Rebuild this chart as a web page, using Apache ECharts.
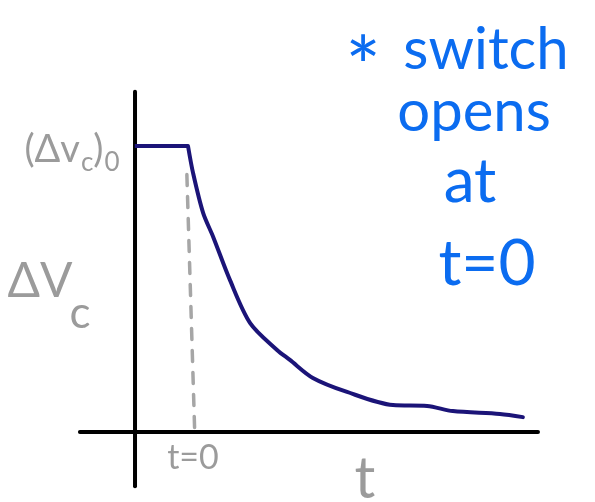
<!DOCTYPE html>
<html>
<head>
<meta charset="utf-8">
<script src="https://cdn.jsdelivr.net/npm/echarts@6/dist/echarts.min.js"></script>
<style>
  html, body { margin: 0; padding: 0; background: #fff; }
  #chart { width: 595px; height: 502px; }
</style>
</head>
<body>
<div id="chart"></div>
<script>
// Capacitor voltage after the switch opens: held at (ΔVc)0 before t=0, then decays.
// Time in units of the decay scale, voltage normalised to the initial value.
const holdTimes   = [-0.95, 0.0];
const holdValues  = [1.0, 1.0];
const decayTimes  = [0.0, 0.09, 0.27, 0.45, 0.75, 1.11, 1.59, 1.82, 2.23, 2.84, 3.66, 4.27, 4.73, 5.57, 5.98];
const decayValues = [1.0, 0.906, 0.766, 0.682, 0.531, 0.381, 0.287, 0.252, 0.189, 0.140, 0.094, 0.091, 0.073, 0.063, 0.052];
// Hand-drawn axes and the t=0 guide
const vAxisLine   = [[-0.946, 1.19], [-0.946, -0.19]];
const hAxisLine   = [[-1.93, 0.0], [6.25, 0.0]];
const switchGuide = [[-0.02, 0.90], [0.12, 0.0]];
// Note lines written beside the graph
const noteLines   = ['switch', 'opens', 'at', 't=0'];

const toPairs = (xs, ys) => xs.map((x, i) => [x, ys[i]]);
const chart = echarts.init(document.getElementById('chart'), null, { renderer: 'canvas' });

const gray = '#9b9b9b';
const blue = '#0b6cf0';
const font = 'Lato, "Open Sans", sans-serif';

function label(x, y, text, size, color, extra) {
  return {
    type: 'text', x: x, y: y, z: 10,
    style: Object.assign({ text: text, fontSize: size, fill: color, fontFamily: font,
      align: 'center', verticalAlign: 'middle' }, extra || {})
  };
}

chart.setOption({
  animation: false,
  backgroundColor: '#fff',
  grid: { left: 0, right: 0, top: 0, bottom: 0 },
  xAxis: { type: 'value', min: -3.357, max: 7.268, show: false },
  yAxis: { type: 'value', min: -0.2448, max: 1.5105, show: false },
  series: [
    { type: 'line', data: vAxisLine, symbol: 'none', z: 2,
      lineStyle: { color: '#000', width: 4, cap: 'round' } },
    { type: 'line', data: hAxisLine, symbol: 'none', z: 2,
      lineStyle: { color: '#000', width: 4, cap: 'round' } },
    { type: 'line', data: switchGuide, symbol: 'none', z: 1,
      lineStyle: { color: '#a6a6a6', width: 3.5, type: [11, 11], cap: 'round' } },
    { type: 'line', data: toPairs(holdTimes, holdValues), symbol: 'none', z: 3,
      lineStyle: { color: '#1b1478', width: 4 } },
    { type: 'line', data: toPairs(decayTimes, decayValues), symbol: 'none', smooth: 0.3, z: 3,
      lineStyle: { color: '#1b1478', width: 4, cap: 'round', join: 'round' } }
  ],
  graphic: [
    // (Δvc)0 level label
    label(72, 150, '{m|(Δv}{s|c}{m|)}{s|0}', 38, gray, {
      rich: {
        m: { fontSize: 38, fill: gray, fontFamily: font },
        s: { fontSize: 26, fill: gray, fontFamily: font, padding: [26, 0, 0, 1] }
      } }),
    // ΔVc axis name
    label(40, 282, 'ΔV', 48, gray),
    label(80, 314, 'c', 44, gray),
    // t=0 tick and t axis name
    label(193, 458, 't=0', 34, gray),
    label(365, 479, 't', 58, gray),
    // blue note
    label(363, 70, '*', 84, blue),
    label(486, 50, noteLines[0], 58, blue),
    label(474, 112, noteLines[1], 58, blue),
    label(470, 182, noteLines[2], 62, blue),
    label(487, 264, noteLines[3], 64, blue)
  ]
});
</script>
</body>
</html>
